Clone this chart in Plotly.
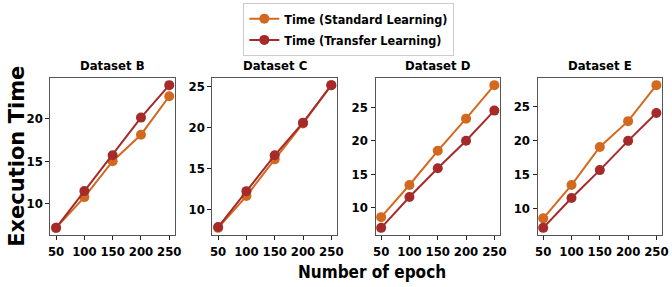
import plotly.graph_objects as go
from plotly.subplots import make_subplots

epochs = [50, 100, 150, 200, 250]
datasets = ["Dataset B", "Dataset C", "Dataset D", "Dataset E"]
standard = {
    "Dataset B": [7.2, 10.8, 15.0, 18.1, 22.6],
    "Dataset C": [7.7, 11.6, 16.1, 20.5, 25.2],
    "Dataset D": [8.6, 13.4, 18.5, 23.3, 28.3],
    "Dataset E": [8.6, 13.5, 19.1, 22.9, 28.2],
}
transfer = {
    "Dataset B": [7.2, 11.5, 15.7, 20.1, 23.9],
    "Dataset C": [7.8, 12.2, 16.6, 20.6, 25.2],
    "Dataset D": [7.0, 11.6, 15.9, 20.0, 24.5],
    "Dataset E": [7.2, 11.6, 15.7, 20.0, 24.1],
}
y_ticks = {
    "Dataset B": [10, 15, 20],
    "Dataset C": [10, 15, 20, 25],
    "Dataset D": [10, 15, 20, 25],
    "Dataset E": [10, 15, 20, 25],
}
x_ticks = [50, 100, 150, 200, 250]

C_STD = "#D2691E"
C_TRF = "#A52A2A"
W, H = 672, 287
NARROW = "DejaVu Sans Condensed, DejaVu Sans"
WIDE = "DejaVu Sans"

fig = make_subplots(rows=1, cols=4)
lefts = [49, 213, 378, 542]
pw = 126
top, bot = 78, 235

for i, ds in enumerate(datasets):
    col = i + 1
    fig.add_trace(go.Scatter(
        x=epochs, y=standard[ds], mode="lines+markers",
        name="Time (Standard Learning)", legendgroup="s", showlegend=(i == 0),
        line=dict(color=C_STD, width=2), marker=dict(color=C_STD, size=10),
    ), row=1, col=col)
    fig.add_trace(go.Scatter(
        x=epochs, y=transfer[ds], mode="lines+markers",
        name="Time (Transfer Learning)", legendgroup="t", showlegend=(i == 0),
        line=dict(color=C_TRF, width=2), marker=dict(color=C_TRF, size=10),
    ), row=1, col=col)
    vals = standard[ds] + transfer[ds]
    lo, hi = min(vals), max(vals)
    pad = (hi - lo) * 0.05
    x0 = lefts[i] / W
    x1 = (lefts[i] + pw) / W
    axsfx = "" if col == 1 else str(col)
    fig.layout["xaxis" + axsfx].update(
        domain=[x0, x1], range=[40, 260], tickvals=x_ticks, tickangle=0,
        ticks="outside", ticklen=4, tickcolor="#222", showgrid=False, zeroline=False,
        showline=True, linecolor="#555", linewidth=1, mirror=True,
        tickfont=dict(family=NARROW, size=13, color="black", weight="bold"),
    )
    fig.layout["yaxis" + axsfx].update(
        domain=[1 - bot / H, 1 - top / H], range=[lo - pad, hi + pad],
        tickvals=y_ticks[ds],
        ticks="outside", ticklen=4, tickcolor="#222", showgrid=False, zeroline=False,
        showline=True, linecolor="#555", linewidth=1, mirror=True,
        tickfont=dict(family=NARROW, size=13, color="black", weight="bold"),
    )
    fig.add_annotation(
        x=(x0 + x1) / 2, y=1 - 65 / H, xref="paper", yref="paper",
        text="<b>" + ds + "</b>", showarrow=False,
        font=dict(family=NARROW, size=13, color="black"),
        xanchor="center", yanchor="middle",
    )

fig.add_annotation(
    x=374 / W, y=1 - 272 / H, xref="paper", yref="paper",
    text="<b>Number of epoch</b>", showarrow=False,
    font=dict(family=NARROW, size=17, color="black"),
    xanchor="center", yanchor="middle",
)
fig.add_annotation(
    x=15 / W, y=1 - 156 / H, xref="paper", yref="paper",
    text="<b>Execution Time</b>", showarrow=False, textangle=-90,
    font=dict(family=WIDE, size=21, color="black"),
    xanchor="center", yanchor="middle",
)

fig.update_layout(
    width=W, height=H,
    margin=dict(l=0, r=0, t=0, b=0),
    paper_bgcolor="white", plot_bgcolor="white",
    showlegend=True,
    legend=dict(
        x=351 / W, y=1 - 3 / H, xanchor="center", yanchor="top",
        bordercolor="#cccccc", borderwidth=1, bgcolor="white",
        font=dict(family=NARROW, size=12.5, color="black", weight="bold"),
        itemwidth=30, tracegroupgap=2,
    ),
)

fig.write_html(
    "out.html",
    config={"displayModeBar": False},
    post_script="document.body.style.margin='0px';",
)
